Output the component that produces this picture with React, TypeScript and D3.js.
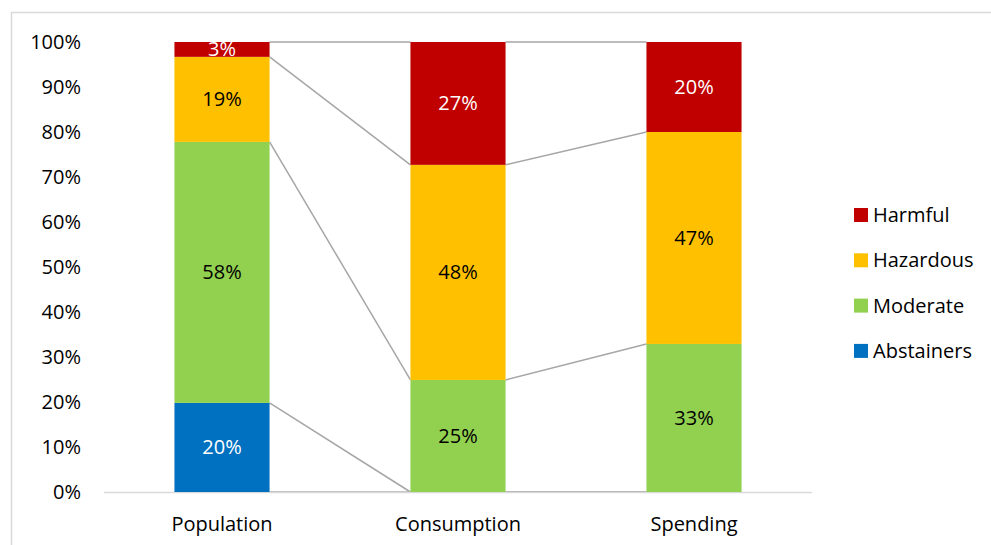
import * as d3 from "d3";
import { useEffect, useRef } from "react";

const categories = ["Population", "Consumption", "Spending"];
const seriesNames = ["Abstainers", "Moderate", "Hazardous", "Harmful"];
const abstainers = [19.8, 0, 0];
const moderate = [58.0, 24.9, 32.9];
const hazardous = [18.9, 47.8, 47.1];
const harmful = [3.3, 27.3, 20.0];
const yTicks = [0, 10, 20, 30, 40, 50, 60, 70, 80, 90, 100];
const colors = ["#0070C0", "#92D050", "#FFC000", "#C00000"];
const labelColors = ["#ffffff", "#000000", "#000000", "#ffffff"];

const svgWidth = 991,
  svgHeight = 545;
const font = "'Open Sans', sans-serif";
const fontSize = 20;

export default function App() {
  const ref = useRef<SVGSVGElement>(null);

  useEffect(() => {
    const svg = d3.select(ref.current);
    svg.selectAll("*").remove();

    // outer chart frame
    svg
      .append("rect")
      .attr("x", 11.5)
      .attr("y", 12.5)
      .attr("width", 1000)
      .attr("height", 600)
      .attr("fill", "white")
      .attr("stroke", "#d9d9d9")
      .attr("stroke-width", 1.5);

    const x = d3
      .scaleBand()
      .domain(categories)
      .range([104, 812])
      .paddingInner(0.597)
      .paddingOuter(0.2985);
    const y = d3.scaleLinear().domain([0, 100]).range([492, 42]);

    const rows = categories.map((c, i) => ({
      category: c,
      Abstainers: abstainers[i],
      Moderate: moderate[i],
      Hazardous: hazardous[i],
      Harmful: harmful[i],
    }));
    const stacked = d3.stack<any>().keys(seriesNames)(rows);

    // series lines between bars
    const lines = svg.append("g").attr("class", "series-lines");
    const tops = [{ idx: -1 }, ...stacked.map((_, k) => ({ idx: k }))];
    tops.forEach(({ idx }) => {
      for (let i = 0; i < categories.length - 1; i++) {
        const v0 = idx < 0 ? 0 : stacked[idx][i][1];
        const v1 = idx < 0 ? 0 : stacked[idx][i + 1][1];
        lines
          .append("line")
          .attr("x1", x(categories[i])! + x.bandwidth())
          .attr("x2", x(categories[i + 1])!)
          .attr("y1", y(v0))
          .attr("y2", y(v1))
          .attr("stroke", "#a6a6a6")
          .attr("stroke-width", 1.5);
      }
    });

    // x axis line
    svg
      .append("line")
      .attr("x1", 104)
      .attr("x2", 812)
      .attr("y1", y(0) + 0.5)
      .attr("y2", y(0) + 0.5)
      .attr("stroke", "#d9d9d9")
      .attr("stroke-width", 1.5);

    // bars
    stacked.forEach((layer, k) => {
      const g = svg.append("g").attr("class", "layer");
      g.selectAll("rect")
        .data(layer.filter((d) => d[1] - d[0] > 0))
        .join("rect")
        .attr("x", (d) => x(d.data.category)!)
        .attr("y", (d) => y(d[1]))
        .attr("width", x.bandwidth())
        .attr("height", (d) => y(d[0]) - y(d[1]))
        .attr("fill", colors[k]);
      g.selectAll("text")
        .data(layer.filter((d) => d[1] - d[0] > 0))
        .join("text")
        .attr("x", (d) => x(d.data.category)! + x.bandwidth() / 2)
        .attr("y", (d) => y((d[0] + d[1]) / 2))
        .attr("dy", "0.35em")
        .attr("text-anchor", "middle")
        .attr("font-family", font)
        .attr("font-size", fontSize)
        .attr("fill", labelColors[k])
        .text((d) => `${Math.round(d[1] - d[0])}%`);
    });

    // y tick labels
    svg
      .append("g")
      .selectAll("text")
      .data(yTicks)
      .join("text")
      .attr("x", 81)
      .attr("y", (d) => y(d))
      .attr("dy", "0.35em")
      .attr("text-anchor", "end")
      .attr("font-family", font)
      .attr("font-size", fontSize)
      .attr("fill", "#000")
      .text((d) => `${d}%`);

    // category labels
    svg
      .append("g")
      .selectAll("text")
      .data(categories)
      .join("text")
      .attr("x", (d) => x(d)! + x.bandwidth() / 2)
      .attr("y", 524)
      .attr("dy", "0.35em")
      .attr("text-anchor", "middle")
      .attr("font-family", font)
      .attr("font-size", fontSize)
      .attr("fill", "#000")
      .text((d) => d);

    // legend
    const legendOrder = [3, 2, 1, 0];
    const legend = svg
      .append("g")
      .selectAll("g")
      .data(legendOrder)
      .join("g")
      .attr("transform", (_, i) => `translate(854, ${215 + i * 45.3})`);
    legend
      .append("rect")
      .attr("x", 0)
      .attr("y", -7)
      .attr("width", 14)
      .attr("height", 14)
      .attr("fill", (k) => colors[k]);
    legend
      .append("text")
      .attr("x", 19)
      .attr("y", 0)
      .attr("dy", "0.35em")
      .attr("font-family", font)
      .attr("font-size", fontSize)
      .attr("fill", "#000")
      .text((k) => seriesNames[k]);
  }, []);

  return (
    <svg
      ref={ref}
      width={svgWidth}
      height={svgHeight}
      style={{ position: "absolute", left: 0, top: 0, display: "block" }}
    />
  );
}
